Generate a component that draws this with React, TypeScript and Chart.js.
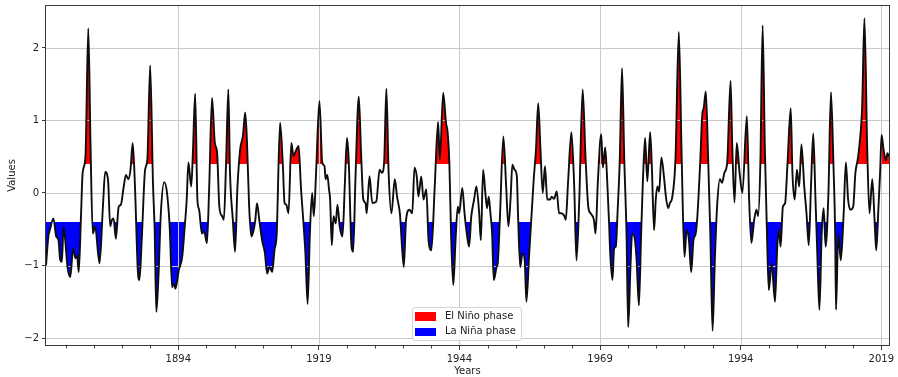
import React, { useEffect, useRef } from "react";
import { Chart, registerables } from "chart.js";

Chart.register(...registerables);

// ---- data ----
const years: number[] = [
  1870.48, 1870.9, 1871.2, 1871.8, 1872.3, 1872.7, 1873.0, 1873.3, 1873.6, 1873.9,
  1874.3, 1874.8, 1875.3, 1875.7, 1876.0, 1876.3, 1876.7, 1877.0, 1877.5, 1878.0,
  1878.4, 1878.8, 1879.2, 1880.0, 1880.6, 1881.0, 1881.5, 1881.9, 1882.2, 1882.5,
  1882.9, 1883.4, 1883.8, 1884.3, 1884.7, 1885.1, 1885.5, 1885.9, 1886.3, 1886.8,
  1887.1, 1887.5, 1888.1, 1888.5, 1889.0, 1889.5, 1889.8, 1890.1, 1890.5, 1890.9,
  1891.5, 1892.0, 1892.5, 1892.9, 1893.2, 1893.5, 1894.1, 1894.7, 1895.1, 1895.5,
  1895.8, 1896.3, 1896.6, 1897.0, 1897.4, 1897.7, 1898.2, 1898.6, 1899.1, 1899.5,
  1900.0, 1900.5, 1900.9, 1901.3, 1901.8, 1902.1, 1902.5, 1902.9, 1903.2, 1903.7,
  1904.1, 1904.5, 1905.0, 1905.5, 1905.9, 1906.2, 1906.6, 1907.0, 1907.4, 1907.7,
  1908.0, 1908.4, 1908.9, 1909.4, 1909.8, 1910.2, 1910.7, 1911.1, 1911.5, 1912.1,
  1912.6, 1912.9, 1913.2, 1913.6, 1914.1, 1914.5, 1914.9, 1915.4, 1915.8, 1916.3,
  1916.6, 1917.0, 1917.4, 1917.8, 1918.1, 1918.5, 1919.1, 1919.6, 1920.0, 1920.2,
  1920.5, 1920.8, 1921.0, 1921.3, 1921.6, 1922.0, 1922.3, 1922.7, 1923.2, 1923.6,
  1924.0, 1924.3, 1924.8, 1925.1, 1925.5, 1926.1, 1926.5, 1926.9, 1927.3, 1927.5,
  1928.0, 1928.5, 1929.2, 1929.8, 1930.2, 1930.6, 1931.0, 1931.4, 1931.9, 1932.5,
  1932.9, 1933.4, 1934.1, 1934.5, 1935.1, 1935.6, 1936.0, 1936.4, 1936.7, 1937.2,
  1937.6, 1938.1, 1938.5, 1939.0, 1939.6, 1940.2, 1940.5, 1941.1, 1941.6, 1941.9,
  1942.2, 1942.5, 1942.9, 1943.3, 1943.7, 1943.95, 1944.5, 1944.9, 1945.3, 1945.7,
  1946.1, 1946.6, 1947.0, 1947.5, 1947.8, 1948.2, 1948.6, 1948.9, 1949.2, 1949.5,
  1949.8, 1950.1, 1950.6, 1950.8, 1951.2, 1951.8, 1952.3, 1952.7, 1953.1, 1953.4,
  1953.8, 1954.2, 1954.4, 1954.8, 1955.2, 1955.6, 1955.9, 1956.4, 1956.8, 1957.2,
  1957.6, 1958.0, 1958.4, 1958.8, 1959.2, 1959.6, 1960.1, 1960.4, 1960.8, 1961.3,
  1961.7, 1962.1, 1962.6, 1962.9, 1963.3, 1963.9, 1964.4, 1964.8, 1965.3, 1965.9,
  1966.4, 1966.9, 1967.3, 1967.9, 1968.2, 1968.6, 1969.2, 1969.5, 1969.9, 1970.2,
  1970.6, 1970.8, 1971.2, 1971.5, 1971.8, 1972.1, 1972.5, 1972.9, 1973.3, 1973.7,
  1974.0, 1974.4, 1974.7, 1975.1, 1975.5, 1975.9, 1976.3, 1976.6, 1977.0, 1977.4,
  1977.9, 1978.2, 1978.6, 1978.9, 1979.2, 1979.5, 1979.9, 1980.4, 1980.7, 1981.1,
  1981.4, 1981.8, 1982.4, 1983.0, 1983.5, 1984.0, 1984.4, 1984.8, 1985.2, 1985.6,
  1986.0, 1986.3, 1986.8, 1987.2, 1987.4, 1987.8, 1988.2, 1988.6, 1989.0, 1989.4,
  1989.8, 1990.3, 1990.7, 1991.1, 1991.6, 1992.2, 1992.5, 1992.9, 1993.3, 1993.8,
  1994.3, 1995.1, 1995.5, 1995.9, 1996.4, 1996.8, 1997.1, 1997.5, 1997.9, 1998.3,
  1998.7, 1999.0, 1999.5, 2000.1, 2000.5, 2000.8, 2001.1, 2001.5, 2001.9, 2002.3,
  2002.9, 2003.2, 2003.6, 2004.0, 2004.4, 2004.8, 2005.3, 2005.7, 2006.1, 2006.5,
  2006.9, 2007.3, 2007.6, 2008.0, 2008.4, 2008.75, 2009.1, 2009.6, 2010.05, 2010.5,
  2010.8, 2010.95, 2011.35, 2011.8, 2012.3, 2012.7, 2013.1, 2013.5, 2014.0, 2014.4,
  2014.8, 2015.1, 2015.6, 2016.0, 2016.5, 2016.9, 2017.4, 2017.8, 2018.1, 2018.5,
  2018.8, 2019.05, 2019.4, 2019.8, 2020.1, 2020.37,
];

const values: number[] = [
  -1.0, -0.6, -0.5, -0.35, -0.6, -0.65, -0.92, -0.95, -0.46, -0.65,
  -1.02, -1.16, -0.76, -0.9, -0.86, -1.09, -0.32, 0.28, 0.51, 2.27,
  0.65, -0.56, -0.46, -0.97, -0.19, 0.29, 0.19, -0.46, -0.37, -0.35,
  -0.63, -0.19, -0.16, 0.09, 0.25, 0.19, 0.32, 0.69, 0.09, -1.06,
  -1.2, -0.65, 0.32, 0.46, 1.76, 0.14, -0.51, -1.64, -1.11, -0.28,
  0.15, 0.0, -0.51, -1.3, -1.25, -1.32, -1.06, -0.88, -0.51, -0.09,
  0.42, 0.09, 0.56, 1.37, -0.09, -0.23, -0.56, -0.53, -0.69, 0.09,
  1.31, 0.69, 0.56, -0.19, -0.32, -0.37, 0.42, 1.43, 0.28, -0.37,
  -0.81, 0.05, 0.6, 0.79, 1.11, 0.74, -0.19, -0.6, -0.51, -0.37,
  -0.14, -0.37, -0.65, -0.83, -1.11, -1.02, -1.09, -0.79, -0.56, 0.97,
  0.37, -0.14, -0.16, -0.28, 0.69, 0.51, 0.58, 0.65, 0.09, -0.46,
  -0.83, -1.53, -0.56, 0.0, -0.32, 0.28, 1.27, 0.42, 0.37, 0.19,
  0.25, 0.05, -0.09, -0.72, -0.32, -0.42, -0.16, -0.46, -0.6, 0.09,
  0.76, 0.46, -0.74, -0.81, 0.19, 1.33, 0.56, -0.09, -0.14, -0.28,
  0.23, -0.14, -0.12, 0.32, 0.28, 0.42, 1.44, 0.28, -0.28, 0.19,
  -0.05, -0.28, -1.02, -0.37, -0.23, -0.28, 0.35, 0.23, -0.05, 0.23,
  -0.09, 0.05, -0.65, -0.79, 0.09, 0.98, 0.46, 1.38, 0.97, 0.83,
  0.42, -0.56, -1.27, -0.65, -0.19, -0.28, 0.07, -0.28, -0.56, -0.74,
  -0.32, -0.09, 0.09, -0.28, -0.65, 0.32, 0.0, -0.21, -0.05, -0.28,
  -0.56, -1.2, -1.02, -0.97, -0.32, 0.78, 0.09, -0.46, -0.05, 0.39,
  0.32, 0.23, -0.28, -1.02, -0.83, -0.93, -1.5, -0.83, -0.32, 0.19,
  0.6, 1.24, 0.6, 0.0, 0.37, -0.09, -0.09, -0.05, -0.08, 0.02,
  -0.28, -0.28, -0.31, -0.37, 0.14, 0.84, 0.09, -0.93, -0.09, 1.43,
  0.51, -0.19, -0.28, -0.37, -0.56, 0.15, 0.81, 0.35, 0.63, 0.28,
  -0.42, -0.83, -1.2, -0.76, -0.74, -0.28, 0.46, 1.72, 0.46, -0.56,
  -1.85, -1.02, -0.56, -0.6, -0.93, -1.55, -0.56, 0.14, 0.76, 0.16,
  0.84, 0.37, -0.51, -0.09, 0.09, 0.02, 0.49, 0.19, -0.05, -0.21,
  -0.14, -0.07, 0.46, 2.22, 0.51, -0.88, -0.51, -0.65, -1.09, -0.65,
  -0.56, -0.32, 0.42, 1.11, 1.16, 1.4, 0.51, -0.56, -1.9, -0.93,
  -0.19, 0.19, 0.14, 0.28, 0.42, 1.55, 0.65, -0.13, 0.69, 0.28,
  0.0, 1.06, -0.09, -0.69, -0.37, -0.23, -0.32, 0.42, 2.31, 0.6,
  -0.65, -1.34, -0.97, -1.5, -0.74, -0.51, -0.74, -0.19, -0.14, 0.37,
  1.17, 0.28, -0.09, 0.32, 0.09, 0.67, 0.09, -0.28, -0.72, 0.09,
  0.82, -0.09, -0.79, -1.61, -0.56, -0.21, -0.74, 0.0, 1.39, 0.37,
  -0.56, -1.61, -0.56, -0.93, -0.3, 0.42, -0.09, -0.23, -0.19, 0.28,
  0.46, 0.65, 1.2, 2.41, 0.6, -0.28, 0.19, -0.37, -0.79, -0.19,
  0.3, 0.8, 0.6, 0.45, 0.55, 0.5,
];

const elNinoLevel = 0.4;
const laNinaLevel = -0.4;
const xMajorTicks = [1894, 1919, 1944, 1969, 1994, 2019];
const xMinorTicks = [
  1874, 1879, 1884, 1889, 1899, 1904, 1909, 1914, 1924, 1929, 1934, 1939,
  1949, 1954, 1959, 1964, 1974, 1979, 1984, 1989, 1999, 2004, 2009, 2014,
];
const yMajorTicks = [-2, -1, 0, 1, 2];
const xLimits = [1870.48, 2020.37];
const yLimits = [-2.1103448, 2.5931034];
const legendLabels = ["El Niño phase", "La Niña phase"];
const phaseColors = ["#ff0000", "#0000ff"];
const xTitle = "Years";
const yTitle = "Values";

const FONT = "'DejaVu Sans', 'Liberation Sans', sans-serif";
const GRID = "#c9c9c9";
const TEXT = "#222222";
const AXIS = "#3a3a3a";

const decorPlugin = {
  id: "decor",
  beforeDatasetDraw(chart: any, args: any) {
    if (args.index !== 0) return;
    const { ctx, chartArea: a, scales } = chart;
    ctx.save();
    ctx.strokeStyle = GRID;
    ctx.lineWidth = 1;
    ctx.beginPath();
    for (const v of xMajorTicks) {
      const px = Math.round(scales.x.getPixelForValue(v)) + 0.5;
      ctx.moveTo(px, a.top);
      ctx.lineTo(px, a.bottom);
    }
    for (const v of yMajorTicks) {
      const py = Math.round(scales.y.getPixelForValue(v)) + 0.5;
      ctx.moveTo(a.left, py);
      ctx.lineTo(a.right, py);
    }
    ctx.stroke();
    ctx.restore();
  },
  afterDraw(chart: any) {
    const { ctx, chartArea: a, scales } = chart;
    ctx.save();
    ctx.strokeStyle = AXIS;
    ctx.lineWidth = 1;
    ctx.beginPath();
    for (const v of xMinorTicks) {
      const px = Math.round(scales.x.getPixelForValue(v)) + 0.5;
      ctx.moveTo(px, a.bottom);
      ctx.lineTo(px, a.bottom + 2.5);
    }
    ctx.stroke();
    ctx.strokeRect(
      Math.round(a.left) - 0.5,
      Math.round(a.top) + 0.5,
      Math.round(a.right) - Math.round(a.left) + 1,
      Math.round(a.bottom) - Math.round(a.top) - 1
    );
    ctx.restore();
  },
};

export default function App() {
  const canvasRef = useRef<HTMLCanvasElement | null>(null);

  useEffect(() => {
    const canvas = canvasRef.current;
    if (!canvas) return;
    Chart.defaults.font.family = FONT;
    const points = years.map((x, i) => ({ x, y: values[i] }));
    const chart = new Chart(canvas, {
      type: "line",
      data: {
        datasets: [
          {
            label: "Index",
            data: points,
            borderColor: "#0d0d0d",
            borderWidth: 1.9,
            pointRadius: 0,
            fill: false,
            cubicInterpolationMode: "monotone",
          },
          {
            label: legendLabels[0],
            data: points,
            borderColor: "rgba(0,0,0,0)",
            borderWidth: 0,
            pointRadius: 0,
            cubicInterpolationMode: "monotone",
            fill: { target: { value: elNinoLevel }, above: phaseColors[0], below: "rgba(0,0,0,0)" },
          },
          {
            label: legendLabels[1],
            data: points,
            borderColor: "rgba(0,0,0,0)",
            borderWidth: 0,
            pointRadius: 0,
            cubicInterpolationMode: "monotone",
            fill: { target: { value: laNinaLevel }, above: "rgba(0,0,0,0)", below: phaseColors[1] },
          },
        ],
      } as any,
      options: {
        animation: false,
        responsive: false,
        devicePixelRatio: 1,
        events: [],
        layout: { padding: { left: 2, top: 5, right: 9, bottom: 0 } },
        plugins: { legend: { display: false }, tooltip: { enabled: false } },
        scales: {
          x: {
            type: "linear",
            min: xLimits[0],
            max: xLimits[1],
            afterBuildTicks: (s: any) => {
              s.ticks = xMajorTicks.map((v) => ({ value: v }));
            },
            afterFit: (s: any) => {
              s.height = 31;
              s.paddingLeft = 0;
              s.paddingRight = 0;
            },
            ticks: {
              autoSkip: false,
              maxRotation: 0,
              padding: 3,
              color: TEXT,
              font: { size: 10, family: FONT },
              callback: (v: any) => String(v),
            },
            grid: {
              display: true,
              drawOnChartArea: false,
              drawTicks: true,
              tickLength: 4,
              tickColor: AXIS,
              tickWidth: 1,
            },
            border: { display: false },
            title: {
              display: true,
              text: xTitle,
              color: TEXT,
              font: { size: 10, family: FONT },
              padding: { top: 0, bottom: 0 },
            },
          },
          y: {
            type: "linear",
            min: yLimits[0],
            max: yLimits[1],
            afterBuildTicks: (s: any) => {
              s.ticks = yMajorTicks.map((v) => ({ value: v }));
            },
            afterFit: (s: any) => {
              s.width = 44;
              s.paddingTop = 0;
              s.paddingBottom = 0;
            },
            ticks: {
              autoSkip: false,
              padding: 3,
              color: TEXT,
              font: { size: 10, family: FONT },
              callback: (v: any) => (v < 0 ? "\u2212" + Math.abs(v) : String(v)),
            },
            grid: {
              display: true,
              drawOnChartArea: false,
              drawTicks: true,
              tickLength: 4,
              tickColor: AXIS,
              tickWidth: 1,
            },
            border: { display: false },
            title: {
              display: true,
              text: yTitle,
              color: TEXT,
              font: { size: 10, family: FONT },
              padding: { top: 4, bottom: 4 },
            },
          },
        },
      } as any,
      plugins: [decorPlugin],
    });
    return () => chart.destroy();
  }, []);

  const textStyle: React.CSSProperties = {
    position: "absolute",
    left: 32,
    fontFamily: FONT,
    fontSize: 10,
    lineHeight: "12px",
    color: TEXT,
    whiteSpace: "nowrap",
  };

  return (
    <div style={{ position: "fixed", left: 0, top: 0, width: 898, height: 377, background: "#fff" }}>
      <canvas ref={canvasRef} width={898} height={377} style={{ display: "block", width: 898, height: 377 }} />
      <div
        style={{
          position: "absolute",
          left: 412,
          top: 307,
          width: 110,
          height: 34,
          boxSizing: "border-box",
          border: "1px solid #d4d4d4",
          borderRadius: 3,
          background: "rgba(255,255,255,0.85)",
        }}
      >
        {legendLabels.map((label, i) => (
          <React.Fragment key={label}>
            <div
              style={{
                position: "absolute",
                left: 2,
                top: i === 0 ? 4 : 19.5,
                width: 21,
                height: 8.5,
                background: phaseColors[i],
              }}
            />
            <div style={{ ...textStyle, top: i === 0 ? 1.5 : 17 }}>{label}</div>
          </React.Fragment>
        ))}
      </div>
    </div>
  );
}
